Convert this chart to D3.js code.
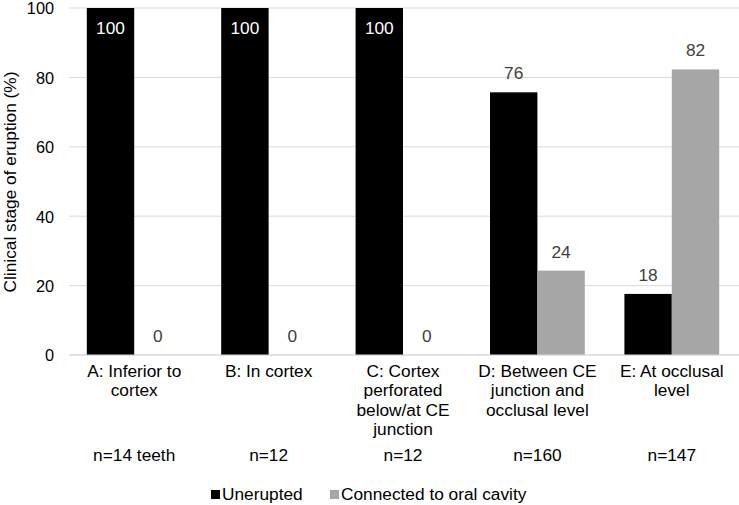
<!DOCTYPE html>
<html><head><meta charset="utf-8">
<script src="https://cdn.jsdelivr.net/npm/d3@7"></script>
<style>body{margin:0;background:#fff}text{font-family:"Liberation Sans",Arial,sans-serif}</style>
</head><body><svg id="c" width="739" height="505"></svg>
<script>
const categories = [
  ["A: Inferior to","cortex"],
  ["B: In cortex"],
  ["C: Cortex","perforated","below/at CE","junction"],
  ["D: Between CE","junction and","occlusal level"],
  ["E: At occlusal","level"]
];
const nLabels = ["n=14 teeth","n=12","n=12","n=160","n=147"];
const unerupted = [100,100,100,75.7,17.6];
const connected = [0,0,0,24.3,82.3];
const seriesNames = ["Unerupted","Connected to oral cavity"];
const seriesColors = ["#000000","#a6a6a6"];
const yTicks = [0,20,40,60,80,100];

const FS = 17.3;
const svg = d3.select("#c");
const x = d3.scaleBand().domain(d3.range(categories.length)).range([67,739]);
const y = d3.scaleLinear().domain([0,100]).range([355,8]);
const barW = 47.4;

// gridlines
svg.append("g").selectAll("line").data(yTicks).join("line")
  .attr("x1",69).attr("x2",739).attr("y1",d=>y(d)).attr("y2",d=>y(d))
  .attr("stroke","#d9d9d9").attr("stroke-width",1);

// y axis labels
const yAxis = d3.axisLeft(y).tickValues(yTicks).tickSize(0).tickPadding(15);
const yg = svg.append("g").attr("transform","translate(69,0)").call(yAxis);
yg.select(".domain").remove();
yg.selectAll("text").attr("font-size",16.3).attr("fill","#000").attr("dy","0.36em");

// y title
svg.append("text").attr("transform","translate(16,182) rotate(-90)")
  .attr("text-anchor","middle").attr("font-size",FS).attr("fill","#000")
  .text("Clinical stage of eruption (%)");

const series = [unerupted, connected];
series.forEach((vals,si)=>{
  const g = svg.append("g");
  g.selectAll("rect").data(vals).join("rect")
    .attr("x",(d,i)=>x(i)+x.bandwidth()/2 - barW + si*barW)
    .attr("width",barW)
    .attr("y",d=>y(d)).attr("height",d=>y(0)-y(d))
    .attr("fill",seriesColors[si]);
  g.selectAll("text").data(vals).join("text")
    .attr("x",(d,i)=>x(i)+x.bandwidth()/2 - barW/2 + si*barW)
    .attr("y",d=> d>=95 ? y(d)+26 : y(d)-13)
    .attr("text-anchor","middle").attr("font-size",FS)
    .attr("fill",d=> d>=95 ? "#fff" : "#404040")
    .text(d=>Math.round(d));
});

// baseline
svg.append("line").attr("x1",69).attr("x2",739).attr("y1",y(0)).attr("y2",y(0)).attr("stroke","#d9d9d9");

// category labels
const cg = svg.append("g");
categories.forEach((lines,i)=>{
  const t = cg.append("text").attr("text-anchor","middle").attr("font-size",FS).attr("fill","#000");
  lines.forEach((ln,j)=>{
    t.append("tspan").attr("x",x(i)+x.bandwidth()/2).attr("y",377+j*19.4).text(ln);
  });
});
svg.append("g").selectAll("text").data(nLabels).join("text")
  .attr("x",(d,i)=>x(i)+x.bandwidth()/2).attr("y",460.5)
  .attr("text-anchor","middle").attr("font-size",FS).attr("fill","#000").text(d=>d);

// legend
const legX = [211,330];
seriesNames.forEach((n,i)=>{
  svg.append("rect").attr("x",legX[i]).attr("y",490).attr("width",9).attr("height",9).attr("fill",seriesColors[i]);
  svg.append("text").attr("x",legX[i]+11).attr("y",499.5).attr("font-size",FS).attr("fill","#000").text(n);
});
</script></body></html>
